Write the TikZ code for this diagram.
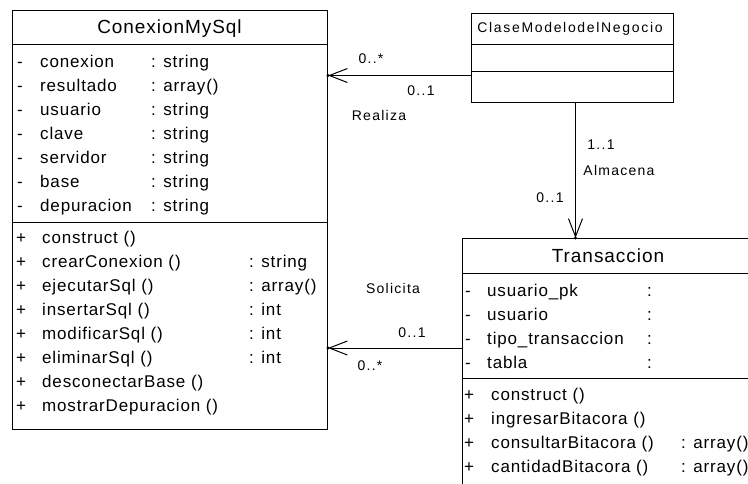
\documentclass[tikz,border=0pt]{standalone}
\usepackage{fontspec}
\setmainfont{Liberation Sans}[LetterSpace=5]
\usetikzlibrary{arrows.meta}
\begin{document}
\begin{tikzpicture}[x=1pt, y=-1pt, line join=miter,
    box/.style={draw, line width=1pt, anchor=north west, inner sep=0pt},
    ttl/.style={font=\fontsize{19}{21}\selectfont, anchor=base, inner sep=0pt},
    row/.style={font=\fontsize{17}{20}\selectfont, anchor=base west, inner sep=0pt},
    lbl/.style={font=\fontsize{14}{16}\selectfont\addfontfeature{LetterSpace=9}, anchor=base, inner sep=0pt},
    assoc/.style={line width=1pt, -{Straight Barb[length=18pt, width=14pt, line width=1pt]}}]
  \clip (0,0) rectangle (748,483);
  \fill[white] (0,0) rectangle (748,483);

  % ConexionMySql
  \node[box, minimum width=315pt, minimum height=419pt] (cm) at (12,10) {};
  \draw[line width=1pt] (12,44) -- (327,44) (12,222) -- (327,222);
  \node[ttl] (cmt) at (169.5,33) {ConexionMySql};
  \foreach \n/\t [count=\i] in {conexion/string, resultado/array(), usuario/string,
      clave/string, servidor/string, base/string, depuracion/string} {
    \node[row] (cmv\i) at (17,{43+24*\i}) {-};
    \node[row] (cma\i) at (40,{43+24*\i}) {\n};
    \node[row] (cmd\i) at (151,{43+24*\i}) {: \t};
  }
  \foreach \n/\t [count=\i] in {construct ()/, crearConexion ()/: string,
      ejecutarSql ()/: array(), insertarSql ()/: int, modificarSql ()/: int,
      eliminarSql ()/: int, desconectarBase ()/, mostrarDepuracion ()/} {
    \node[row] (cmp\i) at (16,{219+24*\i}) {+};
    \node[row] (cmm\i) at (42,{219+24*\i}) {\n};
    \node[row] (cmr\i) at (249,{219+24*\i}) {\t};
  }

  % ClaseModelodelNegocio
  \node[box, minimum width=202pt, minimum height=89pt] (cmn) at (471,13) {};
  \draw[line width=1pt] (471,44) -- (673,44) (471,71) -- (673,71);
  \node[lbl, font=\fontsize{14}{16}\selectfont\addfontfeature{LetterSpace=12}] (cmnt) at (570,32) {ClaseModelodelNegocio};

  % Transaccion
  \node[box, minimum width=300pt, minimum height=260pt] (tr) at (462,238) {};
  \draw[line width=1pt] (462,273) -- (760,273) (462,378) -- (760,378);
  \node[ttl] (trt) at (608,262) {Transaccion};
  \foreach \n [count=\i] in {usuario\_pk, usuario, tipo\_transaccion, tabla} {
    \node[row] (trv\i) at (465,{272+24*\i}) {-};
    \node[row] (tra\i) at (487,{272+24*\i}) {\n};
    \node[row] (trd\i) at (647,{272+24*\i}) {:};
  }
  \foreach \n/\t [count=\i] in {construct ()/, ingresarBitacora ()/,
      consultarBitacora ()/: array(), cantidadBitacora ()/: array()} {
    \node[row] (trp\i) at (464,{376+24*\i}) {+};
    \node[row] (trm\i) at (491,{376+24*\i}) {\n};
    \node[row] (trr\i) at (681,{376+24*\i}) {\t};
  }

  % asociaciones
  \coordinate (rz) at ([yshift=-17.5pt]cmn.west);
  \draw[assoc] (rz) -- (cm.east |- rz);
  \fill (cm.east |- rz) circle (1.7pt);
  \node[lbl] (rz1) at (371,63) {0..*};
  \node[lbl] (rz2) at (421,95) {0..1};
  \node[lbl] (rz3) at (379,120) {Realiza};

  \coordinate (al) at ([xshift=3pt]cmn.south);
  \draw[assoc] (al) -- (tr.north -| al);
  \fill (tr.north -| al) circle (1.7pt);
  \node[lbl] (al1) at (601,149) {1..1};
  \node[lbl] (al2) at (619,175) {Almacena};
  \node[lbl] (al3) at (550,202) {0..1};

  \coordinate (so) at (tr.west |- 0,348);
  \draw[assoc] (so) -- (cm.east |- so);
  \fill (cm.east |- so) circle (1.7pt);
  \node[lbl] (so1) at (393,293) {Solicita};
  \node[lbl] (so2) at (412,337) {0..1};
  \node[lbl] (so3) at (370,370) {0..*};
\end{tikzpicture}
\end{document}
